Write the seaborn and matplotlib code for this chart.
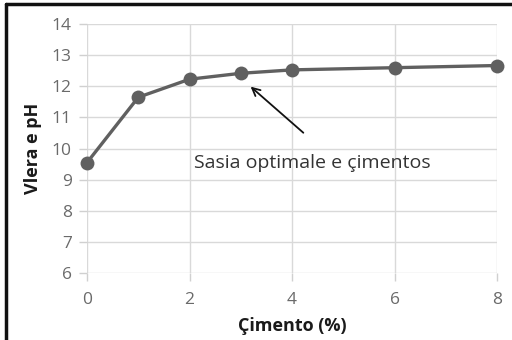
import matplotlib
matplotlib.use("Agg")
import matplotlib.pyplot as plt
from matplotlib.lines import Line2D
import seaborn as sns
import pandas as pd

# Cement content (%) and measured pH
cimento = [0, 1, 2, 3, 4, 6, 8]
ph = [9.55, 11.65, 12.23, 12.42, 12.53, 12.6, 12.67]
x_ticks = [0, 2, 4, 6, 8]
y_ticks = [6, 7, 8, 9, 10, 11, 12, 13, 14]

sns.set_theme(style="white")
plt.rcParams["font.family"] = ["Open Sans", "DejaVu Sans"]

df = pd.DataFrame({"Çimento (%)": cimento, "Vlera e pH": ph})

fig = plt.figure(figsize=(5.12, 3.4), dpi=100)
ax = fig.add_axes([0.170, 0.197, 0.801, 0.732])

sns.lineplot(data=df, x="Çimento (%)", y="Vlera e pH", ax=ax,
             color="#606060", linewidth=2.4, marker="o", markersize=10,
             markeredgewidth=0, clip_on=False, zorder=3)

ax.set_xlim(0, 8)
ax.set_ylim(6, 14)
ax.set_xticks(x_ticks)
ax.set_yticks(y_ticks)

ax.grid(True, color="#d9d9d9", linewidth=1.0)
for s in ax.spines.values():
    s.set_visible(False)

ax.tick_params(axis="both", which="both", length=6, width=1.0,
               color="#d0d0d0", labelcolor="#6a6a6a", labelsize=12.5)
ax.tick_params(axis="y", pad=5, left=True)
ax.tick_params(axis="x", pad=8, bottom=True)

ax.set_xlabel("Çimento (%)", fontsize=13, fontweight="bold",
              color="#1a1a1a", labelpad=6)
ax.set_ylabel("Vlera e pH", fontsize=13, fontweight="bold",
              color="#1a1a1a", labelpad=7)

# Annotation pointing at the optimal cement content
ax.annotate("", xy=(3.15, 12.05), xytext=(4.26, 10.45),
            arrowprops=dict(arrowstyle="->", color="#111111", lw=1.3,
                            mutation_scale=14))
ax.text(2.08, 9.55, "Sasia optimale e çimentos", fontsize=14,
        color="#333333", va="center", ha="left")

# Outer frame along the left and top edges
fig.add_artist(Line2D([0.012, 0.012], [0.0, 0.988], transform=fig.transFigure,
                      color="#111111", linewidth=2.5))
fig.add_artist(Line2D([0.012, 1.0], [0.988, 0.988], transform=fig.transFigure,
                      color="#111111", linewidth=2.5))

fig.savefig("out.png", dpi=100)
